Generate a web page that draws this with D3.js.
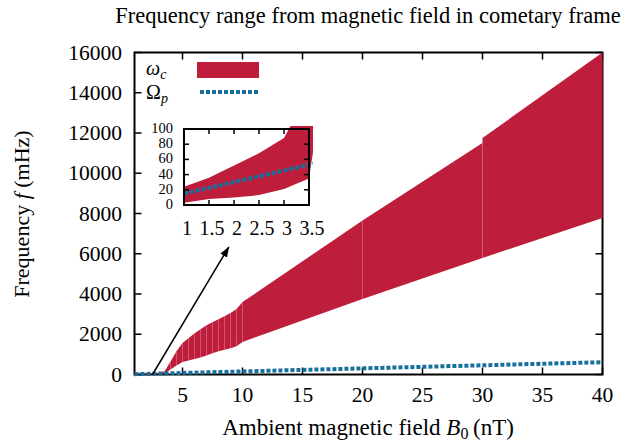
<!DOCTYPE html>
<html>
<head>
<meta charset="utf-8">
<script src="https://cdn.jsdelivr.net/npm/d3@7"></script>
<style>
  html, body { margin: 0; padding: 0; background: #fff; }
  text { font-family: "Liberation Serif", "Times New Roman", serif; fill: #000; }
</style>
</head>
<body>
<svg id="chart" width="629" height="443"></svg>
<script>
// ---- data ----
const bField = [1, 1.5, 2, 2.5, 3, 3.5, 4, 4.5, 5, 5.5, 6, 6.5, 7, 7.5, 8, 8.5, 9, 9.5, 10, 20, 29.99, 30, 40];
const omegaCUpper = [24, 36, 52, 68, 88, 150, 650, 1150, 1560, 1800, 2050, 2250, 2450, 2600, 2750, 2900, 3050, 3250, 3600, 7650, 11500, 11750, 16000];
const omegaCLower = [3, 8, 10, 13, 21, 35, 250, 450, 620, 700, 770, 840, 950, 1050, 1150, 1230, 1300, 1400, 1620, 3750, 5790, 5790, 7780];
const omegaPB = [1, 3.5, 10, 20, 30, 40];
const omegaP = [15, 53, 152, 305, 458, 610];
const xTicks = [5, 10, 15, 20, 25, 30, 35, 40];
const yTicks = [0, 2000, 4000, 6000, 8000, 10000, 12000, 14000, 16000];
const insetXTicks = [1, 1.5, 2, 2.5, 3, 3.5];
const insetYTicks = [0, 20, 40, 60, 80, 100];
const arrowFrom = [2.5, 0];
const arrowTo = [8.85, 6330];
const titleText = "Frequency range from magnetic field in cometary frame";

const RED = "#be1e3c", BLUE = "#17709c";
const svg = d3.select("#chart");

// ---- main scales ----
const x = d3.scaleLinear().domain([1, 40]).range([134.5, 602.5]);
const y = d3.scaleLinear().domain([0, 16000]).range([374.5, 52.5]);

const band = bField.map((b, i) => ({b, lo: omegaCLower[i], hi: omegaCUpper[i]}));
const pLine = omegaPB.map((b, i) => ({b, v: omegaP[i]}));

function drawBand(g, xs, ys) {
  const area = d3.area().x(d => xs(d.b)).y0(d => ys(d.lo)).y1(d => ys(d.hi));
  for (let i = 0; i < band.length - 1; i++) {
    g.append("path").attr("d", area([band[i], band[i + 1]])).attr("fill", RED);
  }
}
function drawP(g, xs, ys) {
  const line = d3.line().x(d => xs(d.b)).y(d => ys(d.v));
  g.append("path").attr("d", line(pLine)).attr("fill", "none")
    .attr("stroke", BLUE).attr("stroke-width", 4).attr("stroke-dasharray", "4,2");
}

// frame
svg.append("rect").attr("x", x.range()[0]).attr("y", y.range()[1])
  .attr("width", x.range()[1] - x.range()[0]).attr("height", y.range()[0] - y.range()[1])
  .attr("fill", "none").attr("stroke", "#000").attr("stroke-width", 2);

// ticks (inside, mirrored)
const tk = svg.append("g").attr("stroke", "#000").attr("stroke-width", 1.5);
xTicks.forEach(t => {
  tk.append("line").attr("x1", x(t)).attr("x2", x(t)).attr("y1", y.range()[0]).attr("y2", y.range()[0] - 7);
  tk.append("line").attr("x1", x(t)).attr("x2", x(t)).attr("y1", y.range()[1]).attr("y2", y.range()[1] + 7);
});
yTicks.forEach(t => {
  tk.append("line").attr("x1", x.range()[0]).attr("x2", x.range()[0] + 7).attr("y1", y(t)).attr("y2", y(t));
  tk.append("line").attr("x1", x.range()[1]).attr("x2", x.range()[1] - 7).attr("y1", y(t)).attr("y2", y(t));
});

// tick labels
xTicks.forEach(t => svg.append("text").attr("x", x(t)).attr("y", 402)
  .attr("text-anchor", "middle").attr("font-size", 21.5).text(t));
yTicks.forEach(t => svg.append("text").attr("x", 122).attr("y", y(t) + 7)
  .attr("text-anchor", "end").attr("font-size", 21.5).text(t));

// data main
const gMain = svg.append("g");
drawBand(gMain, x, y);
drawP(gMain, x, y);

// title and axis labels
svg.append("text").attr("x", 368).attr("y", 23).attr("text-anchor", "middle")
  .attr("font-size", 22.5).text(titleText);
const xl = svg.append("text").attr("x", 368).attr("y", 435).attr("text-anchor", "middle").attr("font-size", 23);
xl.append("tspan").text("Ambient magnetic field ");
xl.append("tspan").attr("font-style", "italic").text("B");
xl.append("tspan").attr("font-size", 16).attr("dy", 4).text("0");
xl.append("tspan").attr("dy", -4).text("\u2009(nT)");
const yl = svg.append("text").attr("transform", "translate(29,214) rotate(-90)")
  .attr("text-anchor", "middle").attr("font-size", 22);
yl.append("tspan").text("Frequency ");
yl.append("tspan").attr("font-style", "italic").text("f");
yl.append("tspan").text(" (mHz)");

// legend
const lg = svg.append("g");
const l1 = lg.append("text").attr("x", 146).attr("y", 75).attr("font-size", 20);
l1.append("tspan").attr("font-style", "italic").text("\u03c9");
l1.append("tspan").attr("font-style", "italic").attr("font-size", 14).attr("dy", 4).text("c");
lg.append("rect").attr("x", 197).attr("y", 62).attr("width", 62).attr("height", 16).attr("fill", RED);
const l2 = lg.append("text").attr("x", 146).attr("y", 99).attr("font-size", 20);
l2.append("tspan").text("\u03a9");
l2.append("tspan").attr("font-style", "italic").attr("font-size", 14).attr("dy", 4).text("p");
lg.append("line").attr("x1", 200).attr("x2", 258).attr("y1", 92).attr("y2", 92)
  .attr("stroke", BLUE).attr("stroke-width", 4).attr("stroke-dasharray", "4,2");

// arrow
svg.append("defs").append("marker").attr("id", "ah").attr("viewBox", "0 0 10 10")
  .attr("refX", 9).attr("refY", 5).attr("markerWidth", 11).attr("markerHeight", 11)
  .attr("markerUnits", "userSpaceOnUse").attr("orient", "auto")
  .append("path").attr("d", "M0,1.5 L10,5 L0,8.5 Z").attr("fill", "#000");
svg.append("line").attr("x1", x(arrowFrom[0])).attr("y1", y(arrowFrom[1]))
  .attr("x2", x(arrowTo[0])).attr("y2", y(arrowTo[1]))
  .attr("stroke", "#000").attr("stroke-width", 1.5).attr("marker-end", "url(#ah)");

// ---- inset ----
const ix = d3.scaleLinear().domain([1, 3.5]).range([184, 309]);
const iy = d3.scaleLinear().domain([0, 100]).range([205, 129]);
svg.select("defs").append("clipPath").attr("id", "insetClip").append("rect")
  .attr("x", 184).attr("y", 126).attr("width", 129).attr("height", 79);
const gIn = svg.append("g").attr("clip-path", "url(#insetClip)");
drawBand(gIn, ix, iy);
drawP(gIn, ix, iy);
svg.append("rect").attr("x", 184).attr("y", 129).attr("width", 125).attr("height", 76)
  .attr("fill", "none").attr("stroke", "#000").attr("stroke-width", 2);
const itk = svg.append("g").attr("stroke", "#000").attr("stroke-width", 1.5);
insetXTicks.slice(1, -1).forEach(t => {
  itk.append("line").attr("x1", ix(t)).attr("x2", ix(t)).attr("y1", 205).attr("y2", 200);
  itk.append("line").attr("x1", ix(t)).attr("x2", ix(t)).attr("y1", 129).attr("y2", 134);
});
insetYTicks.slice(1, -1).forEach(t => {
  itk.append("line").attr("x1", 184).attr("x2", 189).attr("y1", iy(t)).attr("y2", iy(t));
  itk.append("line").attr("x1", 309).attr("x2", 304).attr("y1", iy(t)).attr("y2", iy(t));
});
insetXTicks.forEach(t => svg.append("text").attr("x", ix(t) + 3).attr("y", 235)
  .attr("text-anchor", "middle").attr("font-size", 20).text(t));
insetYTicks.forEach(t => svg.append("text").attr("x", 173).attr("y", iy(t) + 4)
  .attr("text-anchor", "end").attr("font-size", 14.5).text(t));
</script>
</body>
</html>
